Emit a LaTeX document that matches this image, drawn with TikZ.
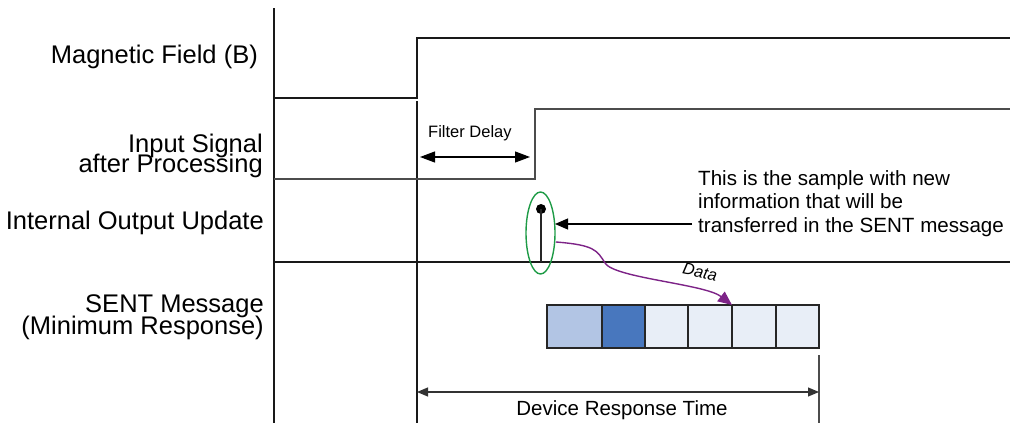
\documentclass[tikz,border=0pt]{standalone}
\usepackage{fontspec}
\setmainfont{Liberation Sans}
\usetikzlibrary{arrows.meta,shapes.geometric}
\definecolor{lblue}{RGB}{178,197,228}
\definecolor{dblue}{RGB}{72,119,190}
\definecolor{vlblue}{RGB}{232,238,247}
\definecolor{egreen}{RGB}{30,155,70}
\definecolor{dpurple}{RGB}{125,35,135}
\begin{document}
\begin{tikzpicture}[x=1pt,y=-1pt,
  sig/.style={line width=1.4pt, draw=black!90},
  gsig/.style={line width=1.6pt, draw=black!70},
  lbl/.style={font={\fontsize{25.5}{20}\selectfont}, inner sep=0pt, anchor=base east},
  lbltwo/.style={font={\fontsize{25.5}{#1}\selectfont\lineskiplimit=-100pt}, align=right, inner sep=0pt, anchor=north east},
  dimarrow/.style={line width=1.1pt, {Triangle[length=15pt,width=11pt]}-{Triangle[length=15pt,width=11pt]}},
  dimarrowsmall/.style={line width=1.1pt, draw=black!80, {Triangle[length=11pt,width=9pt]}-{Triangle[length=11pt,width=9pt]}},
  cell/.style={draw=black!85, line width=1.2pt, minimum height=43pt, inner sep=0pt, outer sep=0pt, anchor=north west},
  ]
\useasboundingbox (0,0) rectangle (1010,423);

% labels
\node[lbl] (mf)  at (258,63)  {Magnetic Field (B)};
\node[lbltwo=20.5] (is) at (263,133.5) {Input Signal\\after Processing};
\node[lbl] (iou) at (264,229) {Internal Output Update};
\node[lbltwo=22] (sm) at (264,294.5) {SENT Message\hspace{5pt}\\(Minimum Response)};

% axis and markers
\coordinate (axtop) at (274,8);
\coordinate (axbot) at (274,423);
\draw[sig] (axtop) -- (axbot);
\coordinate (mk1top) at (417,101);
\coordinate (mk1bot) at (417,423);
\draw[sig] (mk1top) -- (mk1bot);
\coordinate (mk2top) at (819,355);
\coordinate (mk2bot) at (819,423);
\draw[gsig, line width=1.3pt] (mk2top) -- (mk2bot);

% magnetic field
\coordinate (mfa) at (274,98);
\coordinate (mfb) at (417,98);
\coordinate (mfc) at (417,38);
\coordinate (mfd) at (1010,38);
\draw[sig] (mfa) -- (mfb) -- (mfc) -- (mfd);

% input signal
\coordinate (isa) at (274,179);
\coordinate (isb) at (535,179);
\coordinate (isc) at (535,109);
\coordinate (isd) at (1010,109);
\draw[gsig] (isa) -- (isb) -- (isc) -- (isd);

% internal output baseline
\coordinate (ioa) at (274,262);
\coordinate (iob) at (1010,262);
\draw[sig] (ioa) -- (iob);

% filter delay
\coordinate (fda) at (420,157);
\coordinate (fdb) at (530,157);
\draw[dimarrow] (fda) -- (fdb);
\node[font={\fontsize{16.5}{18}\selectfont}, inner sep=0pt, anchor=base west] (fdl) at (428,137) {Filter Delay};

% lollipop sample
\coordinate (stem) at (541,262);
\node[circle, fill=black, minimum size=10pt, inner sep=0pt] (dot) at (541,209) {};
\draw[line width=1.2pt, black!85] (stem) -- (dot.center);
\node[ellipse, draw=egreen, line width=1.4pt, minimum width=29pt, minimum height=82pt, inner sep=0pt, outer sep=0pt] (ell) at (540.5,233) {};

% note
\node[font={\fontsize{20.6}{23.5}\selectfont}, align=left, inner sep=0pt, anchor=north west] (note) at (698,170)
  {This is the sample with new\\information that will be\\transferred in the SENT message};
\coordinate (nstart) at (692,224);
\draw[line width=1.1pt, -{Triangle[length=13pt,width=11pt]}] (nstart) -- (ell.east |- nstart);

% SENT cells
\node[cell, fill=lblue,  minimum width=55pt] (c1) at (547,305) {};
\node[cell, fill=dblue,  minimum width=43pt] (c2) at (c1.north east) {};
\node[cell, fill=vlblue, minimum width=43pt] (c3) at (c2.north east) {};
\node[cell, fill=vlblue, minimum width=44pt] (c4) at (c3.north east) {};
\node[cell, fill=vlblue, minimum width=44pt] (c5) at (c4.north east) {};
\node[cell, fill=vlblue, minimum width=43pt] (c6) at (c5.north east) {};

% data arrow
\coordinate (dstart) at (556,242);
\draw[dpurple, line width=1.4pt, -{Triangle[length=14pt,width=12pt]}]
  (dstart) .. controls (594,245) and (597,250) .. (605,263)
  .. controls (614,278) and (705,284) .. (c5.north west);
\node[font={\fontsize{16.5}{18}\selectfont\itshape}, rotate=-12, inner sep=0pt] (data) at (700,272) {Data};

% device response time
\coordinate (dra) at (417,392);
\coordinate (drb) at (819,392);
\draw[dimarrowsmall] (dra) -- (drb);
\node[font={\fontsize{20.5}{22}\selectfont}, inner sep=0pt, anchor=base] (drl) at (622,415) {Device Response Time};
\end{tikzpicture}
\end{document}
